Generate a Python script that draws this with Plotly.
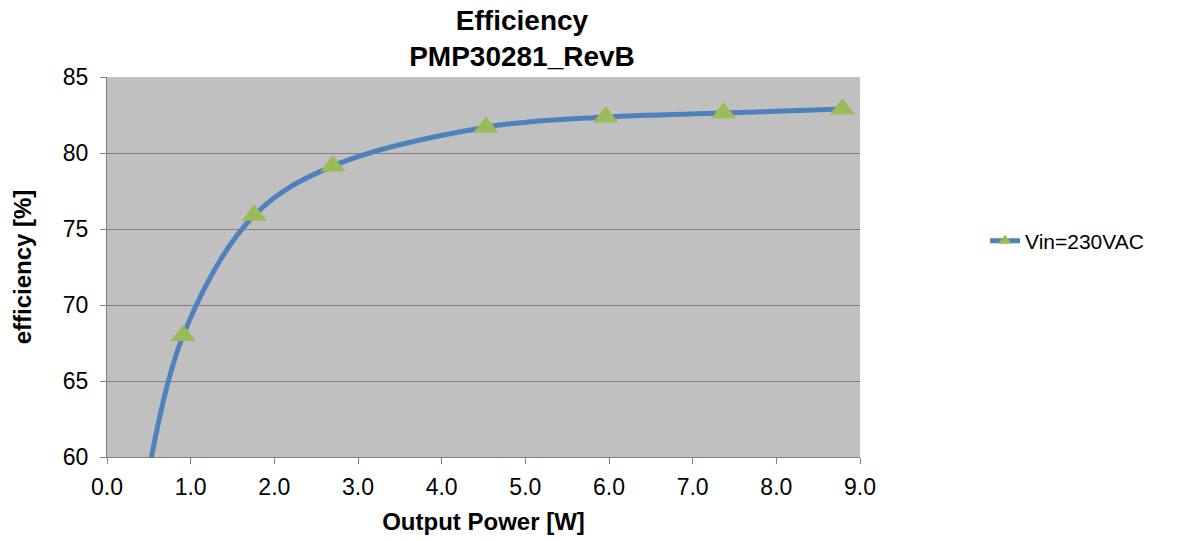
import plotly.graph_objects as go

# Data
output_power_w = [0.45, 0.91, 1.76, 2.70, 4.53, 5.96, 7.37, 8.79]
efficiency_pct = [57.5, 68.0, 75.9, 79.15, 81.7, 82.37, 82.63, 82.9]
series_name = "Vin=230VAC"
x_ticks = [0, 1, 2, 3, 4, 5, 6, 7, 8, 9]
y_ticks = [60, 65, 70, 75, 80, 85]

LINE_C = "#4F81BD"
MARK_C = "#9BBB59"
FONT = "Liberation Sans, Arial, sans-serif"

fig = go.Figure()
fig.add_trace(go.Scatter(
    x=output_power_w, y=efficiency_pct, mode="lines+markers",
    line=dict(color=LINE_C, width=5, shape="spline", smoothing=1.0),
    marker=dict(symbol="triangle-up", size=22, color=MARK_C),
    showlegend=False, name=series_name,
))
# legend-only entry with a smaller marker, as in the reference
fig.add_trace(go.Scatter(
    x=[None], y=[None], mode="lines+markers", name=series_name,
    line=dict(color=LINE_C, width=5),
    marker=dict(symbol="triangle-up", size=12, color=MARK_C),
))

fig.update_layout(
    width=1181, height=541,
    margin=dict(l=107, r=321, t=77, b=84),
    paper_bgcolor="white", plot_bgcolor="#C0C0C0",
    font=dict(family=FONT, size=23, color="black"),
    title=dict(text="<b>Efficiency<br>PMP30281_RevB</b>", x=522/1181, xanchor="center",
               xref="container", y=1 - 30/541, yanchor="top",
               font=dict(family=FONT, size=28, color="black")),
    legend=dict(x=985/1181, xref="container", y=1 - 241/541, yref="container",
                xanchor="left", yanchor="middle", bgcolor="rgba(0,0,0,0)",
                font=dict(family=FONT, size=21, color="black")),
    xaxis=dict(range=[0, 9], tickvals=x_ticks, ticktext=[f"{v:.1f}" for v in x_ticks],
               showgrid=False, zeroline=False, showline=True, linecolor="#808080", linewidth=1,
               ticks="outside", ticklen=6, tickcolor="#808080", mirror=False,
               ticklabelstandoff=3,
               title=dict(text="<b>Output Power [W]</b>", font=dict(family=FONT, size=24), standoff=14),
               tickfont=dict(family=FONT, size=23)),
    yaxis=dict(range=[60, 85], tickvals=y_ticks, showgrid=True, gridcolor="#808080", gridwidth=1.3,
               zeroline=False, showline=True, linecolor="#808080", linewidth=1,
               ticks="outside", ticklen=6, tickcolor="#808080",
               ticklabelstandoff=7,
               title=dict(text="<b>efficiency [%]</b>", font=dict(family=FONT, size=24), standoff=24),
               tickfont=dict(family=FONT, size=23)),
)

fig.write_html("out.html")
